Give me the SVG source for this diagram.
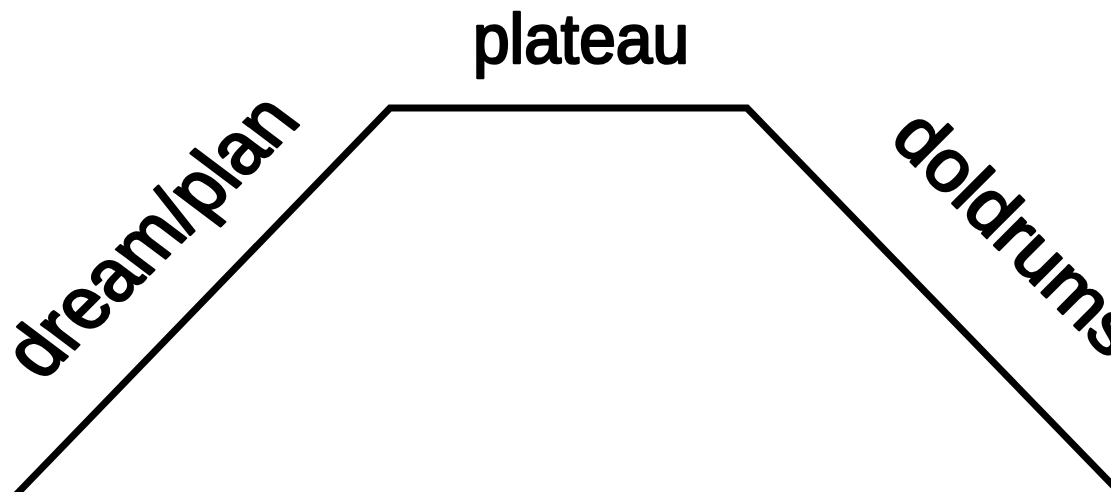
<svg xmlns="http://www.w3.org/2000/svg" width="1111" height="492" viewBox="0 0 1111 492">
<style>
.lbl{font-family:"Liberation Sans",Arial,sans-serif;font-weight:normal;font-size:71px;fill:#000;stroke:#000;stroke-width:2.6;stroke-linejoin:round}
.ln{fill:none;stroke:#000;stroke-width:7;stroke-linejoin:miter}
</style>
<rect width="1111" height="492" fill="#fff"/>
<g id="connectors">
<polyline class="ln" points="11,500 390,108 747,108 1127,500"/>
</g>
<g id="plateau"><text class="lbl" x="473" y="63" textLength="216" lengthAdjust="spacingAndGlyphs">plateau</text></g>
<g id="dream-plan"><text class="lbl" style="font-size:78px" transform="translate(42,382) rotate(-45) skewX(8)" x="0" y="0" textLength="368" lengthAdjust="spacingAndGlyphs">dream/plan</text></g>
<g id="doldrums"><text class="lbl" style="font-size:73px" transform="translate(889,140) rotate(45)" x="0" y="0" textLength="312" lengthAdjust="spacingAndGlyphs">doldrums</text></g>
</svg>
